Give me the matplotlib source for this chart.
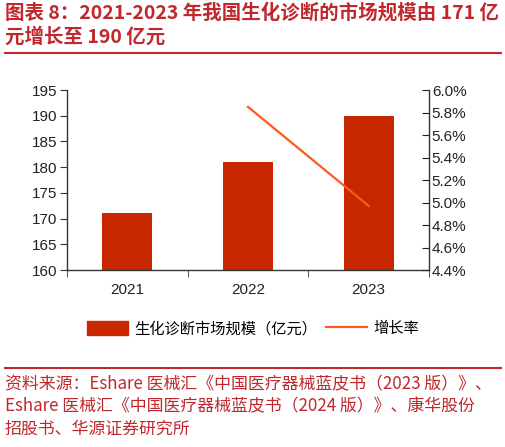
import matplotlib
matplotlib.use("Agg")
import matplotlib.pyplot as plt
from matplotlib.lines import Line2D
from matplotlib.patches import Patch
from matplotlib.ticker import FuncFormatter, FixedLocator

plt.rcParams['font.family'] = ['Noto Sans CJK SC', 'DejaVu Sans']

years = ["2021", "2022", "2023"]
market = [171, 181, 190]
growth_years = ["2022", "2023"]
growth = [5.85, 4.97]
left_ticks = [160, 165, 170, 175, 180, 185, 190, 195]
right_ticks = [4.4, 4.6, 4.8, 5.0, 5.2, 5.4, 5.6, 5.8, 6.0]

title = "图表 8：2021-2023 年我国生化诊断的市场规模由 171 亿\n元增长至 190 亿元"
source = ("资料来源：Eshare 医械汇《中国医疗器械蓝皮书（2023 版）》、\n"
          "Eshare 医械汇《中国医疗器械蓝皮书（2024 版）》、康华股份\n"
          "招股书、华源证券研究所")

W, H = 506, 447
fig = plt.figure(figsize=(W / 100, H / 100), dpi=100)
ax = fig.add_axes([67 / W, 1 - 270 / H, (429 - 67) / W, 180 / H])

bar_color = "#C82800"
line_color = "#FF5A1E"
red_text = "#C0282D"
tick_font = ['Liberation Sans', 'DejaVu Sans']

x = list(range(len(years)))
ax.bar(x, market, width=0.415, color=bar_color, zorder=2)
ax.set_xlim(-0.5, len(years) - 0.5)
ax.set_ylim(left_ticks[0], left_ticks[-1])
ax.set_yticks(left_ticks)
ax.set_xticks(x)
ax.set_xticklabels(years)
ax.xaxis.set_minor_locator(FixedLocator([i - 0.5 for i in range(len(years) + 1)]))
ax.tick_params(axis='x', which='major', length=0, pad=9, labelsize=11, colors='#222222')
ax.tick_params(axis='x', which='minor', length=5, direction='out', color='#333333')
ax.tick_params(axis='y', length=5, direction='out', labelsize=11, colors='#222222', pad=2)
ax.tick_params(axis='y', color='#333333')
for lab in ax.get_xticklabels() + ax.get_yticklabels():
    lab.set_family(tick_font)
for s in ['top', 'right']:
    ax.spines[s].set_visible(False)
for s in ['left', 'bottom']:
    ax.spines[s].set_color('#333333')
    ax.spines[s].set_linewidth(1.0)

ax2 = ax.twinx()
gx = [years.index(y) for y in growth_years]
ax2.plot(gx, growth, color=line_color, lw=1.6, zorder=3)
ax2.set_ylim(right_ticks[0], right_ticks[-1])
ax2.set_yticks(right_ticks)
ax2.yaxis.set_major_formatter(FuncFormatter(lambda v, p: f"{v:.1f}%"))
ax2.tick_params(axis='y', length=5, direction='in', labelsize=11, colors='#222222', pad=2)
for lab in ax2.get_yticklabels():
    lab.set_family(tick_font)
for s in ['top', 'left', 'bottom']:
    ax2.spines[s].set_visible(False)
ax2.spines['right'].set_color('#333333')
ax2.spines['right'].set_linewidth(1.0)

handles = [Patch(color=bar_color, label="生化诊断市场规模（亿元）"),
           Line2D([0], [0], color=line_color, lw=1.6, label="增长率")]
fig.legend(handles=handles, loc='center', bbox_to_anchor=(0.5, 1 - 329 / H), ncol=2,
           frameon=False, fontsize=11, handlelength=2.7, handleheight=1.0,
           columnspacing=0.6, handletextpad=0.4)

fig.text(5 / W, 1 - 3 / H, title, ha='left', va='top', fontsize=14, fontweight='bold',
         color=red_text, linespacing=1.3)
fig.add_artist(Line2D([5 / W, 501 / W], [1 - 53 / H, 1 - 53 / H], color=red_text, lw=1.5))
fig.add_artist(Line2D([5 / W, 501 / W], [1 - 368 / H, 1 - 368 / H], color=red_text, lw=1.5))
fig.text(5 / W, 1 - 375 / H, source, ha='left', va='top', fontsize=12.2, color=red_text,
         linespacing=1.3)

fig.savefig("out.png", dpi=100)
